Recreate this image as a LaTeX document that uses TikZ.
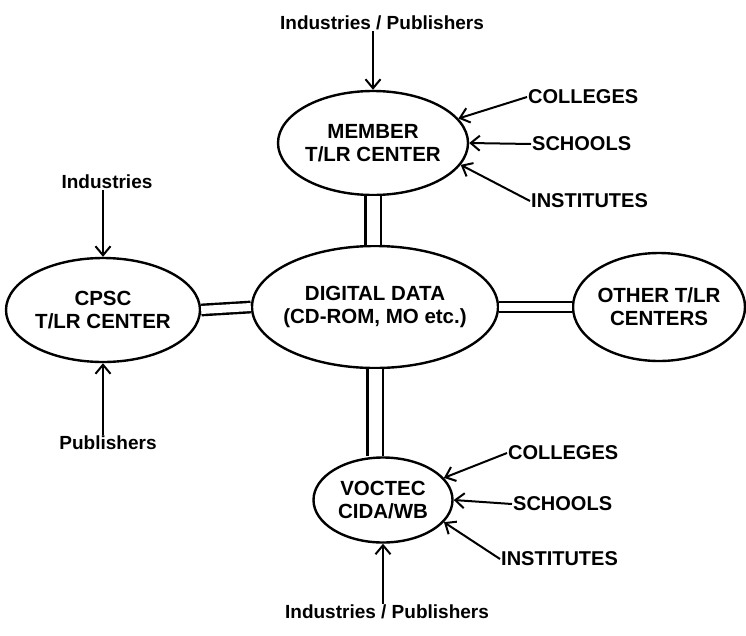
\documentclass[tikz,border=0pt]{standalone}
\usepackage{fontspec}
\setmainfont{Liberation Sans}
\usetikzlibrary{shapes.geometric,arrows.meta}

\tikzset{
  centre/.style={draw, ellipse, line width=2.4pt, inner ysep=0pt, inner xsep=-12pt,
                 align=center, font=\bfseries\fontsize{20.5}{23}\selectfont},
  src/.style={inner sep=1pt, font=\bfseries\fontsize{19}{22}\selectfont},
  inst/.style={inner sep=1pt, font=\bfseries\fontsize{20}{22}\selectfont},
  feed/.style={line width=2pt,
               -{Straight Barb[length=9pt,width=15pt,line width=2pt]}},
  vlink/.style={double, double distance=13pt, line width=2.4pt},
  hlink/.style={double, double distance=8pt, line width=2.4pt},
}

\begin{document}
\begin{tikzpicture}[x=1pt,y=-1pt]
    \useasboundingbox (0,0) rectangle (746,635);
    % centres
    \node[centre, minimum width=190pt, minimum height=104pt] (member) at (373,143) {MEMBER\\T/LR CENTER};
    \node[centre, minimum width=246pt, minimum height=122pt] (digital) at (375,307) {DIGITAL DATA\\(CD-ROM, MO etc.)};
    \node[centre, minimum width=194pt, minimum height=104pt] (cpsc) at (103,310) {CPSC\\T/LR CENTER};
    \node[centre, minimum width=172pt, minimum height=108pt] (other) at (659,307) {OTHER T/LR\\CENTERS};
    \node[centre, minimum width=139pt, minimum height=85pt] (voctec) at (383,500) {VOCTEC\\CIDA/WB};
    % sources
    \node[src] (indtop) at (382,23) {Industries / Publishers};
    \node[src] (ind) at (107,182) {Industries};
    \node[src] (pub) at (108,443) {Publishers};
    \node[src] (indbot) at (387,612) {Industries / Publishers};
    \node[inst, anchor=west] (colA) at (527,97) {COLLEGES};
    \node[inst, anchor=west] (schA) at (531,144) {SCHOOLS};
    \node[inst, anchor=west] (instA) at (530,201) {INSTITUTES};
    \node[inst, anchor=west] (colB) at (507,453) {COLLEGES};
    \node[inst, anchor=west] (schB) at (512,504) {SCHOOLS};
    \node[inst, anchor=west] (instB) at (500,559) {INSTITUTES};
    % links
    \draw[vlink] (member.south) -- (member.south |- digital.north);
    \draw[vlink] (digital.south) -- (digital.south |- voctec.north);
    \draw[hlink] (cpsc.east) -- (digital.west);
    \draw[hlink] (digital.east) -- (other.west);
    % feeds
    \draw[feed] (member.north |- indtop.south) -- (member.north);
    \draw[feed] (cpsc.north |- ind.south) -- (cpsc.north);
    \draw[feed] (cpsc.south |- pub.north) -- (cpsc.south);
    \draw[feed] (voctec.south |- indbot.north) -- (voctec.south);
    \draw[feed] (colA.west) -- (member.16);
    \draw[feed] (schA.west) -- (member.east);
    \draw[feed] (instA.west) -- (member.-14);
    \draw[feed] (colB.west) -- (voctec.20);
    \draw[feed] (schB.west) -- (voctec.east);
    \draw[feed] (instB.west) -- (voctec.-20);
\end{tikzpicture}
\end{document}
